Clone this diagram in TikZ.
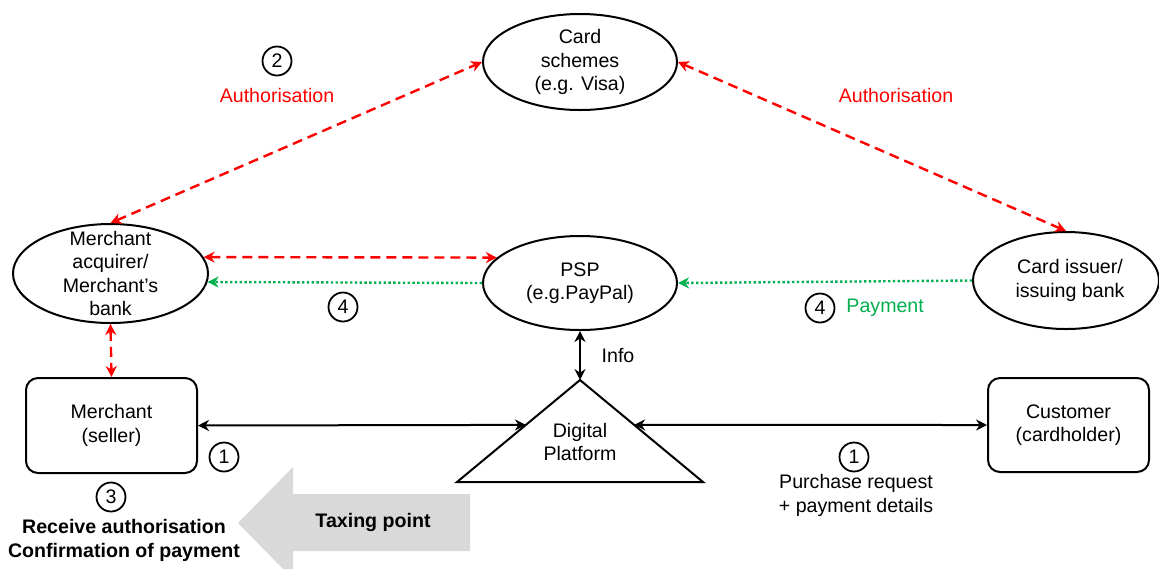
\documentclass[tikz,border=0pt]{standalone}
\usepackage{fontspec}
\setmainfont{Liberation Sans}
\usepackage{tikz}
\usetikzlibrary{arrows.meta,      % if the figure contains arrow-tips
                shapes.geometric  % ellipse nodes
               }
\usetikzlibrary{positioning,calc}

\definecolor{authred}{HTML}{FF0000}
\definecolor{paygreen}{HTML}{00B050}
\definecolor{taxgray}{HTML}{D9D9D9}

\begin{document}
\begin{tikzpicture}[x=0.5pt, y=-0.5pt,
		every node/.style={font=\fontsize{9.8}{11.8}\selectfont, align=center},
		every edge/.style={draw, line width=1pt},
		party/.style={draw, ellipse, line width=1pt, inner sep=0pt},
		actor/.style={draw, rounded corners=6pt, line width=1pt, inner sep=0pt},
		stepnum/.style={draw, circle, line width=0.9pt, inner sep=0pt, minimum size=14.5pt},
		boldnote/.style={font=\fontsize{9.8}{12}\selectfont\bfseries},
		authflow/.style={authred, line width=1.2pt, dash pattern=on 5pt off 3pt,
			{Stealth[length=5.5pt, width=5.5pt]}-{Stealth[length=5.5pt, width=5.5pt]}},
		payflow/.style={paygreen, line width=1.2pt, dash pattern=on 1.2pt off 1.2pt,
			-{Stealth[length=5.5pt, width=5.5pt]}},
		infoflow/.style={black, {Stealth[length=5.5pt, width=5.5pt]}-{Stealth[length=5.5pt, width=5.5pt]}}]

		\useasboundingbox (0,0) rectangle (1159,569);

		% Taxing point arrow
		\fill[taxgray] (238,523) -- (293,467) -- (293,494) -- (470,494) -- (470,551)
			-- (293,551) -- (293,569) -- (283,569) -- cycle;
		\node[boldnote] (taxing) at (373,522) {Taxing point};

		% Nodes
		\node[party, minimum width=97pt, minimum height=48pt,
			label={center:{Card\\schemes\\(e.g. Visa)}}] (schemes) at (580,62) {};
		\node[party, minimum width=97.5pt, minimum height=49.5pt,
			label={center:{Merchant\\acquirer/\\Merchant's\\bank}}] (acquirer) at (110.5,273.5) {};
		\node[party, minimum width=97pt, minimum height=47pt,
			label={center:{PSP\\(e.g.PayPal)}}] (psp) at (580,283) {};
		\node[party, minimum width=93pt, minimum height=48.5pt,
			label={[xshift=2pt]center:{Card issuer/\\issuing bank}}] (issuer) at (1066,280.5) {};
		\node[actor, minimum width=85.5pt, minimum height=47.5pt] (merchant) at (111.5,425.5) {Merchant\\(seller)};
		\node[actor, minimum width=80.5pt, minimum height=47pt] (customer) at (1068.5,425) {Customer\\(cardholder)};

		% Digital platform
		\coordinate (dpTop) at (580,380);
		\coordinate (dpLeft) at (457,482);
		\coordinate (dpRight) at (703,482);
		\draw[line width=1pt] (dpTop) -- (dpLeft) -- (dpRight) -- cycle;
		\node (platform) at (580,442) {Digital\\Platform};
		\coordinate (dpIn) at ($(dpTop)!0.44!(dpLeft)$);
		\coordinate (dpOut) at ($(dpTop)!0.44!(dpRight)$);

		% Edges
		\draw (acquirer.north) edge[authflow] (schemes.west);
		\draw (schemes.east) edge[authflow] (issuer.north);
		\draw (acquirer.10) edge[authflow] (psp.163);
		\draw (acquirer.south) edge[authflow] (merchant.north);
		\draw (psp.west) edge[payflow] (acquirer.-5);
		\draw (issuer.west) edge[payflow] (psp.east);
		\draw (psp.south) edge[infoflow] node[right=7pt] {Info} (dpTop);
		\draw (merchant.east) edge[infoflow] (dpIn);
		\draw (dpOut) edge[infoflow] (customer.west);

		% Steps
		\node[stepnum] (step2) at (277,61) {2};
		\node[text=authred] (authLeft) at (277,95) {Authorisation};
		\node[text=authred] (authRight) at (896,95) {Authorisation};
		\node[stepnum] (step4a) at (343,307) {4};
		\node[stepnum] (step4b) at (820,308) {4};
		\node[text=paygreen, right=2pt of step4b] (payment) {Payment};
		\node[stepnum] (step1a) at (224,457) {1};
		\node[stepnum] (step1b) at (854,457) {1};
		\node[font=\fontsize{9.8}{12}\selectfont] (purchase) at (856,495) {Purchase request\\+ payment details};
		\node[stepnum] (step3) at (111,497) {3};
		\node[boldnote] (receive) at (124,540) {Receive authorisation\\Confirmation of payment};
	\end{tikzpicture}
\end{document}
